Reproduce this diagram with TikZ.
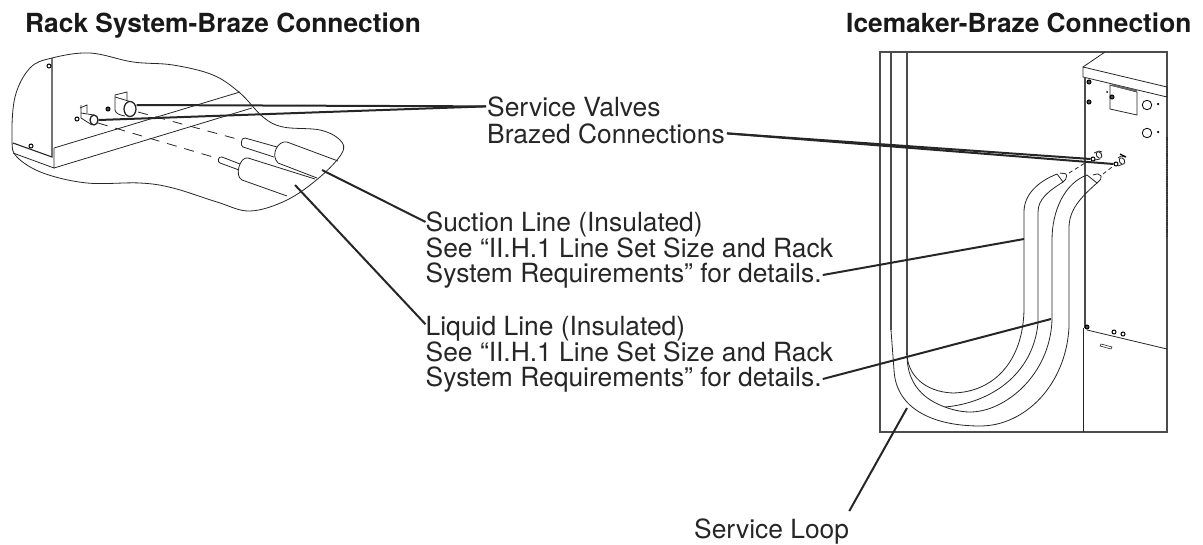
\documentclass[tikz,border=0pt]{standalone}
\usepackage{fontspec}
\setmainfont{TeX Gyre Heros}
\usetikzlibrary{positioning,shapes.geometric}
\tikzset{
  part/.style={line width=0.8pt,black!85},
  frame/.style={line width=1.1pt,black!70},
  leader/.style={line width=2pt,black!85},
  label/.style={inner sep=0pt,anchor=base west,font=\fontsize{26.4}{26}\selectfont,text=black!85},
  head/.style={inner sep=0pt,anchor=base west,font=\fontsize{26.3}{26}\selectfont\bfseries,text=black!90},
  screw/.style={circle,draw,line width=1pt,inner sep=0pt,minimum size=5pt},
  dot/.style={circle,fill=black,inner sep=0pt,minimum size=2.5pt},
  hole/.style={circle,draw,line width=0.8pt,inner sep=0pt,minimum size=9.5pt},
  valve/.style={ellipse,draw,line width=1.3pt,black!85,fill=white,inner sep=0pt}
}
\begin{document}
\begin{tikzpicture}[x=1pt,y=-1pt]
\useasboundingbox (0,0) rectangle (1203,544);
% titles
\node [head] (rackhead) at (25,32) {Rack System-Braze Connection};
\node [head] (icehead) at (846,32) {Icemaker-Braze Connection};
% labels
\node [label] (valves) at (487,116) {Service Valves};
\node [label] (brazed) at (487,143) {Brazed Connections};
\node [label] (suction) at (425.5,231) {Suction Line (Insulated)};
\node [label] (suctionsee) at (425.5,257) {See “II.H.1 Line Set Size and Rack};
\node [label] (suctionsys) at (425.5,282) {System Requirements” for details.};
\node [label] (liquid) at (425.5,335) {Liquid Line (Insulated)};
\node [label] (liquidsee) at (425.5,361) {See “II.H.1 Line Set Size and Rack};
\node [label] (liquidsys) at (425.5,386) {System Requirements” for details.};
\node [label] (loop) at (694,538) {Service Loop};
% rack cut-away
\draw [part] plot [smooth cycle,tension=0.6] coordinates {(52,58) (90,53) (133,62) (173,65) (213,75)
  (240,93) (263,117) (283,127) (320,130) (340,140) (342,153) (320,177) (287,200) (250,211)
  (217,202) (173,188) (140,183) (87,183) (43,173) (17,157) (12,140) (15,97) (30,68)};
\draw [part,line width=1.1pt] (52,58) -- (52,157) -- (13,143);
\draw [part] (54,148) -- (54,168) -- (13,153);
\draw [part] (54,148) -- (240,92);
\draw [part] (54,168) -- (252,108);
\node [screw,minimum size=4pt] (rs1) at (49,66) {};
\node [screw,minimum size=4pt] (rs2) at (31,146) {};
\node [screw,minimum size=4pt,fill=black!70] (rs3) at (108,109) {};
\node [screw,minimum size=4pt] (rs4) at (77,119) {};
% rack valves
\draw [part] (115,95) -- (127,92) -- (127,100);
\draw [part] (115,95) -- (115,110) .. controls (116,114) and (120,115) .. (125,116);
\draw [part] (115,97) -- (130,101.5);
\node [valve,minimum width=12pt,minimum height=15pt] (rackbig) at (130,109) {};
\draw [part] (80,108) -- (87,105) -- (87,113);
\draw [part] (81,105) -- (81,118) -- (92,125);
\draw [part] (81,113) -- (94,115);
\node [valve,minimum width=8pt,minimum height=10pt] (racksmall) at (94,120) {};
% rack dashes and line ends
\draw [part,dash pattern=on 10pt off 8pt] (138,112) -- (237,139);
\draw [part,dash pattern=on 10pt off 8pt] (98,123) -- (213,157);
\draw [part] (245,138) -- (277,147);
\draw [part] (245,138) .. controls (241,137) and (240,146) .. (243,147) -- (274,157);
\draw [part] (287,142) -- (338,161);
\draw [part] (287,142) .. controls (278,140) and (270,155) .. (278,163) -- (317,178);
\draw [part] (222,157) -- (240,164);
\draw [part] (222,157) .. controls (218,156) and (217,162) .. (220,163) -- (239,170);
\draw [part] (248,158) -- (315,179);
\draw [part] (248,158) .. controls (240,156) and (234,176) .. (242,180) -- (287,196);
% icemaker frame
\draw [frame] (880,52) rectangle (1167,432);
\draw [frame] (891,52) -- (891,330);
\draw [frame] (907,52) -- (907,355);
\draw [part] (1083,67) -- (1105,52);
\draw [part] (1083,67) -- (1167,87) -- (1167,97) -- (1083,77) -- cycle;
\draw [frame] (1085,77) -- (1085,328);
\draw [part] (1083,328) -- (1083,432);
\draw [part] (1087,330) -- (1167,349);
\draw [line width=1.2pt,black!80,dash pattern=on 1.5pt off 0.8pt] (1167,137) -- (1167,238);
\draw [part] (1110,85) -- (1137,92) -- (1137,115) -- (1110,109) -- cycle;
\draw [line width=2pt,black!60] (1112,85) -- (1137,91);
\node [hole] (ih1) at (1147,105) {};
\node [hole] (ih2) at (1147,133) {};
\node [dot] (id1) at (1158,104) {};
\node [dot] (id2) at (1158,132) {};
\node [dot,minimum size=2pt] (id3) at (1107,92) {};
\node [screw,minimum size=4pt,fill=black!70] (is1) at (1089,82) {};
\node [screw,minimum size=4pt,fill=black!70] (is2) at (1089,102) {};
\node [screw,minimum size=4pt,fill=black!70] (is3) at (1112,97) {};
\node [screw,minimum size=4pt,fill=black!70] (is4) at (1087,327) {};
\node [screw,minimum size=4pt] (is5) at (1114,332) {};
\node [screw,minimum size=4pt] (is6) at (1123,334) {};
\draw [part,line width=0.6pt] (1101,344) -- (1112,347) -- (1111,349) -- (1100,346) -- cycle;
% icemaker valves
\draw [part] (1094,153) -- (1099,151) -- (1102,152);
\draw [part] (1095,160) -- (1100,159);
\node [valve,line width=0.9pt,minimum width=5pt,minimum height=7pt,rotate=30] (icev1) at (1099,155) {};
\node [screw,minimum size=4pt] (icev1a) at (1093,159) {};
\draw [part] (1118,158) -- (1121,156) -- (1125,157);
\draw [part] (1118,166) -- (1123,164);
\node [valve,line width=0.9pt,minimum width=5pt,minimum height=7pt,rotate=30] (icev2) at (1122,161) {};
\node [screw,minimum size=4pt] (icev2a) at (1116,164) {};
\draw [line width=1.2pt] (1120,154) -- (1126,157);
\draw [part,dash pattern=on 4pt off 3pt] (1069,173) -- (1085,163);
\draw [part,dash pattern=on 4pt off 3pt] (1103,174) -- (icev2a);
% line set
\draw [part,rounded corners=2pt] (1060,173) -- (1062,174) -- (1066,173) -- (1067,178) -- (1063,182);
\draw [part,rounded corners=2pt] (1093,175) -- (1095,174) -- (1100,174) -- (1102,178) -- (1097,183);
\draw [part] (1057,174) .. controls (1037,182) and (1024,195) .. (1024,212) -- (1024,310)
  .. controls (1023,360) and (995,392) .. (953,393) .. controls (925,392) and (907,375) .. (907,353);
\draw [part] (1057,174) -- (1063,182) .. controls (1047,192) and (1038,200) .. (1038,212) -- (1038,323)
  .. controls (1033,375) and (990,403) .. (945,407) .. controls (925,400) and (907,385) .. (907,355);
\draw [part] (1087,175) .. controls (1065,183) and (1052,210) .. (1052,240) -- (1052,320)
  .. controls (1050,375) and (1005,412) .. (970,412) .. controls (960,412) and (950,409) .. (945,407);
\draw [part] (1087,175) -- (1097,183) .. controls (1080,198) and (1069,210) .. (1069,228) -- (1069,327)
  .. controls (1066,385) and (1025,426) .. (980,426) .. controls (935,426) and (896,410) .. (894,370)
  -- (891,330);
% connectors
\coordinate (suctionend) at (322,170);
\coordinate (liquidend) at (295,185);
\coordinate (iceup) at (1024,239);
\coordinate (icedown) at (1051,319);
\coordinate (loopend) at (907,408);
\draw [leader] ([yshift=4pt]rackbig.east) -- ([xshift=-1pt]valves.west);
\draw [leader] (racksmall.east) -- ([xshift=-1pt]valves.west);
\draw [leader] ([xshift=2pt]brazed.east) -- (icev1a.west);
\draw [leader] ([xshift=2pt]brazed.east) -- (icev2a.west);
\draw [leader] (suctionend) -- ([yshift=2pt]suction.west);
\draw [leader] (liquidend) -- ([yshift=4pt]liquid.west);
\draw [leader] ([xshift=1pt]suctionsys.east) -- (iceup);
\draw [leader] ([xshift=1pt]liquidsys.east) -- (icedown);
\draw [leader] ([yshift=7pt]loop.north east) -- (loopend);
\end{tikzpicture}
\end{document}
